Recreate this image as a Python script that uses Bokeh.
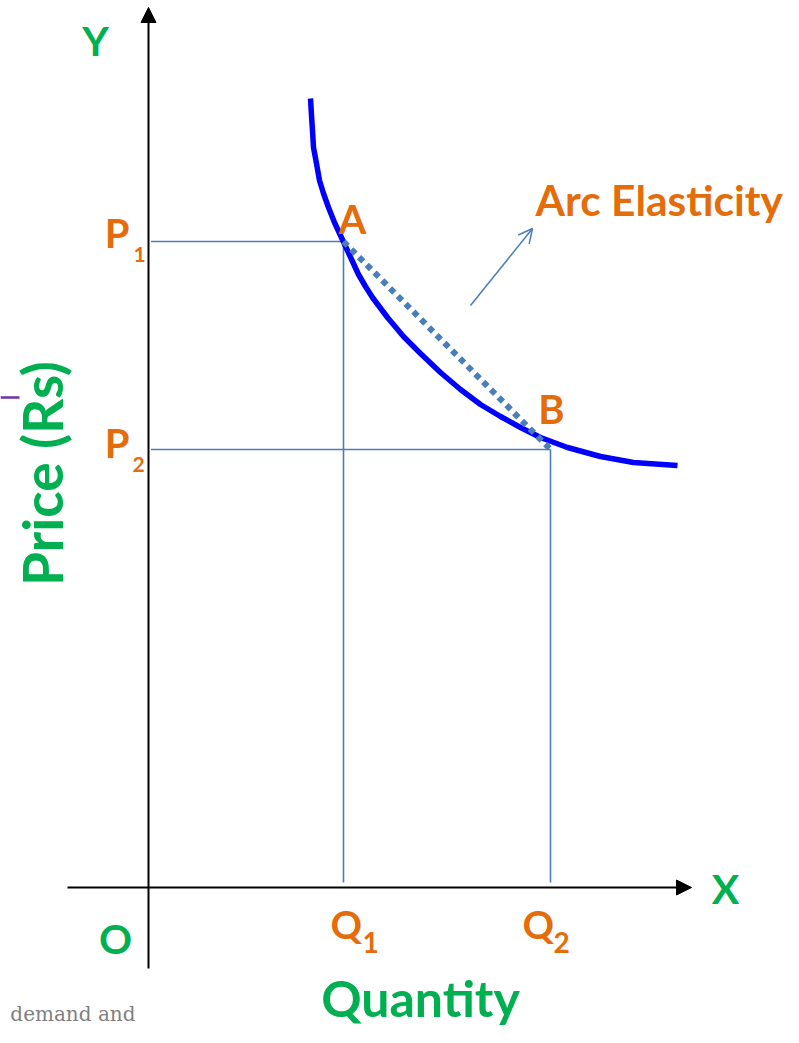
import math
from bokeh.plotting import figure
from bokeh.models import Range1d, Arrow, NormalHead, OpenHead
from bokeh.core.properties import value
from bokeh.embed import file_html
from bokeh.resources import INLINE

# ---- data (quantity / price units) ----
demand_q = [3.24, 3.26, 3.28, 3.30, 3.36, 3.42, 3.50, 3.60, 3.72, 3.84, 3.96, 4.08, 4.20, 4.34,
            4.48, 4.78, 5.10, 5.44, 5.84, 6.24, 6.64, 7.04, 7.44, 7.84, 8.38, 9.04, 9.70, 10.58]
demand_p = [15.78, 15.44, 15.14, 14.80, 14.48, 14.14, 13.88, 13.60, 13.30, 13.04, 12.78, 12.52, 12.26, 12.02,
            11.80, 11.40, 11.02, 10.68, 10.30, 9.96, 9.66, 9.42, 9.20, 9.00, 8.80, 8.62, 8.50, 8.44]
q_levels = [3.90, 8.04]          # Q1, Q2
p_levels = [12.92, 8.76]         # P1, P2
q_labels = ["Q", "Q"]
p_labels = ["P", "P"]
subscripts = ["1", "2"]
point_labels = ["A", "B"]

ORANGE = "#e46c0a"
GREEN = "#00b050"
GUIDE = "#4a7ebb"
FONT = value("Lato")

p = figure(width=783, height=1027, x_range=Range1d(-2.96, 12.70), y_range=Range1d(-2.80, 17.74),
           output_backend="svg", toolbar_location=None, min_border=0)
p.axis.visible = False
p.grid.visible = False
p.outline_line_color = None
p.background_fill_color = "white"

# axes with arrow heads
p.add_layout(Arrow(end=NormalHead(size=15, fill_color="black", line_color="black"),
                   x_start=0, y_start=-1.62, x_end=0, y_end=17.60,
                   line_color="black", line_width=2))
p.add_layout(Arrow(end=NormalHead(size=15, fill_color="black", line_color="black"),
                   x_start=-1.62, y_start=0, x_end=10.86, y_end=0,
                   line_color="black", line_width=2))

# guide lines
for q, pr in zip(q_levels, p_levels):
    p.line([0.05, q], [pr, pr], line_color=GUIDE, line_width=1.6)
    p.line([q, q], [pr, 0.1], line_color=GUIDE, line_width=1.6)

# demand curve
p.line(demand_q, demand_p, line_color="#0000ff", line_width=5.5, line_join="round")

# arc (chord) between A and B
p.line(q_levels, p_levels, line_color=GUIDE, line_width=6, line_dash="6 5", line_cap="butt")

# pointer to "Arc Elasticity"
p.add_layout(Arrow(end=OpenHead(size=14, line_color=GUIDE, line_width=1.5),
                   x_start=6.44, y_start=11.64, x_end=7.68, y_end=13.18,
                   line_color=GUIDE, line_width=1.5))

# purple fragment at left edge
p.line([-2.96, -2.58], [9.8, 9.8], line_color="#7030a0", line_width=2.5)

def txt(x, y, t, size, color, align="left", baseline="alphabetic", angle=0, font=FONT, style="bold"):
    p.text(x=x, y=y, text=t, text_font=font, text_font_style=style, text_font_size=size,
           text_color=color, text_align=align, text_baseline=baseline, angle=angle)

# axis letters
txt([-1.06], [16.95], ["Y"], "41px", GREEN, "center")
txt([11.54], [-0.01], ["X"], "41px", GREEN, "center")
txt([-0.66], [-1.01], ["O"], "41px", GREEN, "center")

# point labels
txt([4.08, 8.06], [13.38, 9.58], point_labels, "40px", ORANGE, "center")

# price labels
txt([-0.38, -0.38], [13.10, 8.90], p_labels, "40px", ORANGE, "right")
txt([-0.30, -0.32], [12.66, 8.46], subscripts, "21px", ORANGE, "left")

# quantity labels
txt([3.64, 7.48], [-0.72, -0.72], q_labels, "39px", ORANGE, "left")
txt([4.28, 8.10], [-1.09, -1.09], subscripts, "28px", ORANGE, "left")

# arc elasticity
txt([7.74], [13.76], ["Arc Elasticity"], "42.5px", ORANGE, "left")

# axis titles
txt([5.44], [-2.20], ["Quantity"], "50px", GREEN, "center")
txt([-2.14], [8.28], ["Price (Rs)"], "55px", GREEN, "center", angle=math.pi / 2)

# grey fragment text at bottom left
txt([-0.26], [-2.53], ["demand and"], "20px", "#7f7f7f", "right", "alphabetic",
    font=value("DejaVu Serif"), style="normal")

open("out.html", "w").write(file_html(p, INLINE))
